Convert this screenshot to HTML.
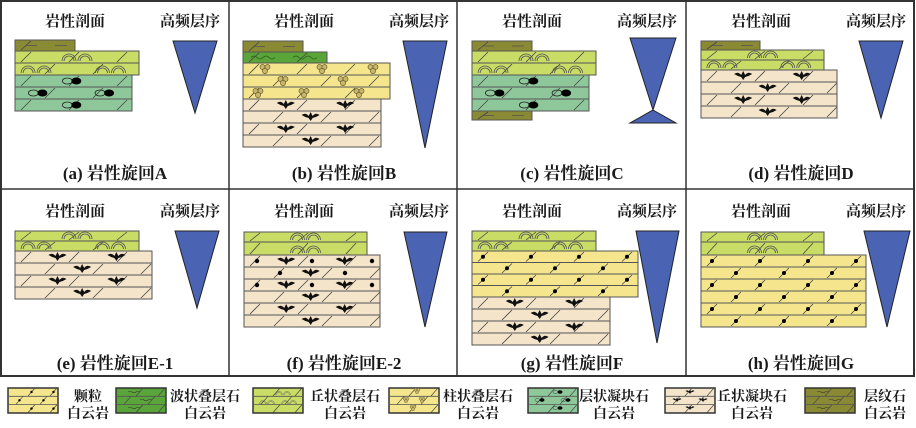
<!DOCTYPE html>
<html><head><meta charset="utf-8"><style>
html,body{margin:0;padding:0;background:#fff}
svg{display:block}
text{font-family:"Liberation Serif","Noto Serif CJK SC",serif;fill:#1a1a1a;font-weight:bold}
</style></head><body>
<svg id="s" width="916" height="428" viewBox="0 0 916 428" xmlns="http://www.w3.org/2000/svg">
<rect x="1" y="1" width="913" height="375" fill="#fff" stroke="#333" stroke-width="2"/>
<line x1="0" y1="189" x2="915" y2="189" stroke="#333" stroke-width="1.5"/>
<line x1="229" y1="0" x2="229" y2="376" stroke="#333" stroke-width="1.5"/>
<line x1="457" y1="0" x2="457" y2="376" stroke="#333" stroke-width="1.5"/>
<line x1="686" y1="0" x2="686" y2="376" stroke="#333" stroke-width="1.5"/>
<g id="g"></g>
</svg>
<script>
var g=document.getElementById('g'),out='';
var C={lam:'#8b8a34',wav:'#5aa53a',hum:'#c8dc66',col:'#f5e68e',gra:'#f5e68e',nod:'#8ec89a',tan:'#f4e4ca'};
function bat(x,y,k){k=k||1;return '<path transform="translate('+x+','+y+') scale('+k+')" d="M-9,-2 Q-5,-5 -2,-1 L0,-5 L2,-1 Q5,-5 9,-2 Q6,0 2,1 L0,4 L-2,1 Q-6,0 -9,-2Z" fill="#111"/>';}
function nod(x,y,k){k=k||1;return '<g transform="translate('+x+','+y+') scale('+k+')"><ellipse cx="-5" cy="0" rx="5" ry="3" fill="none" stroke="#222" stroke-width=".8"/><ellipse cx="4" cy="0" rx="5" ry="3.5" fill="#000"/></g>';}
function hum(x,y,k){k=k||1;var s='<g transform="translate('+x+','+y+') scale('+k+')">';[-8,8].forEach(function(d){[7,5].forEach(function(r){s+='<path d="M'+(d-r)+',0 A'+r+','+r+' 0 0 1 '+(d+r)+',0" fill="none" stroke="#555" stroke-width=".8"/>';});});return s+'</g>';}
function col(x,y,k){k=k||1;return '<g transform="translate('+x+','+y+') scale('+k+')" fill="#c8b66a" stroke="#6b6030" stroke-width=".7"><circle cx="-2.5" cy="-2" r="2.5"/><circle cx="2.5" cy="-2" r="2.5"/><circle cx="0" cy="2" r="2.6"/></g>';}
function row(x,y,w,h,t,i){
 var s='<rect x="'+x+'" y="'+y+'" width="'+w+'" height="'+h+'" fill="'+C[t]+'" stroke="#555" stroke-width="1"/>';
 var st=(i%2?30:6);
 for(var xx=x+st;xx<x+w-6;xx+=48){s+='<line x1="'+xx+'" y1="'+(y+h-1)+'" x2="'+(xx+10)+'" y2="'+(y+1)+'" stroke="#444" stroke-width=".8"/>';
  if(t=='gra')s+='<circle cx="'+(xx+5)+'" cy="'+(y+h/2)+'" r="2" fill="#000"/>';}
 var cy=y+h/2;
 if(t=='hum'){(i%2?[0.17,0.77]:[0.5]).forEach(function(f){s+=hum(x+f*w,y+h-2);});}
 if(t=='nod'){(i%2?[0.2,0.77]:[0.49]).forEach(function(f){s+=nod(x+f*w,cy);});}
 if(t=='tan'){(i%2?[0.49]:[0.31,0.74]).forEach(function(f){s+=bat(x+f*w,cy);});}
 if(t=='col'){var L=[[22,79,130],[40,100],[15,61,116]][i%3];L.forEach(function(r){s+=col(x+r,cy);});}
 if(t=='lam'){for(var k=x+10;k<x+w-10;k+=30)s+='<line x1="'+k+'" y1="'+cy+'" x2="'+(k+12)+'" y2="'+cy+'" stroke="#555" stroke-width=".8"/>';}
 if(t=='wav'){for(var k=x+8;k<x+w-20;k+=42)s+='<path d="M'+k+','+cy+' q3,-3 6,0 t6,0 t6,0 t6,0" fill="none" stroke="#2e5a1e" stroke-width=".8"/>';}
 return s;}
function stack(x,y,list){var s='';list.forEach(function(L){var t=L[0],w=L[1],h=L[2],n=L[3];for(var i=0;i<n;i++){s+=row(x,y,w,h,t,i);y+=h;}});return s;}
function tri(p){return '<polygon points="'+p+'" fill="#4a63b2" stroke="#222" stroke-width="1"/>';}
var P=[[0,0],[229,0],[457,0],[686,0],[0,190],[229,190],[457,190],[686,190]];
var cap=['(a) 岩性旋回A','(b) 岩性旋回B','(c) 岩性旋回C','(d) 岩性旋回D','(e) 岩性旋回E-1','(f) 岩性旋回E-2','(g) 岩性旋回F','(h) 岩性旋回G'];
P.forEach(function(p,k){out+='<text x="'+(p[0]+75)+'" y="'+(p[1]+26)+'" font-size="15" text-anchor="middle">岩性剖面</text>';
out+='<text x="'+(p[0]+190)+'" y="'+(p[1]+26)+'" font-size="15" text-anchor="middle">高频层序</text>';
out+='<text x="'+(p[0]+115)+'" y="'+(p[1]+179)+'" font-size="17" text-anchor="middle">'+cap[k]+'</text>';});
out+=stack(15,40,[['lam',60,11,1],['hum',124,12,2],['nod',117,12,3]]);
out+=tri('173,41 217,41 195,113');
out+=stack(243,41,[['lam',60,11,1],['wav',84,11,1],['col',147,12,3],['tan',138,12,4]]);
out+=tri('403,41 447,41 425,148');
out+=stack(472,41,[['lam',60,10,1],['hum',124,12,2],['nod',117,12,3]]);
out+=row(472,111,60,9,'lam',0);
out+=tri('630,38 676,38 653,110')+tri('653,110 676,123 630,123');
out+=stack(701,41,[['lam',59,9,1],['hum',123,10,2],['tan',136,12,4]]);
out+=tri('859,41 903,41 881,118');
out+=stack(15,231,[['hum',124,10,2],['tan',137,12,4]]);
out+=tri('175,231 219,231 197,308');
out+=stack(244,232,[['hum',123,10,1],['hum',123,13,1]]);
out+=stack(244,255,[['tan',136,12,6]]);
[[0,[13,68,128]],[1,[36,101]],[2,[13,68,128]]].forEach(function(a){a[1].forEach(function(r){out+='<circle cx="'+(244+r)+'" cy="'+(255+a[0]*12+6)+'" r="2.2" fill="#000"/>';});});
out+=tri('404,232 447,232 425,327');
out+=stack(472,231,[['hum',124,10,2],['gra',166,11.5,4],['tan',138,12,4]]);
out+=tri('636,231 679,231 657,343');
out+=stack(701,232,[['hum',123,10,1],['hum',123,13,1]]);
out+=stack(701,255,[['gra',165,12,6]]);
out+=tri('864,231 910,231 887,327');
// legend
var LG=[[8,'gra','颗粒',88],[116,'wav','波状叠层石',205],[253,'hum','丘状叠层石',345],[389,'col','柱状叠层石',478],[528,'nod','层状凝块石',614],[665,'tan','丘状凝块石',752],[805,'lam','层纹石',885]];
LG.forEach(function(l){var x=l[0],s='';
 s+='<rect x="'+x+'" y="388" width="50" height="25" fill="'+C[l[1]]+'" stroke="#333" stroke-width="1.5"/>';
 [396.3,404.6].forEach(function(yy){s+='<line x1="'+x+'" y1="'+yy+'" x2="'+(x+50)+'" y2="'+yy+'" stroke="#555" stroke-width=".8"/>';});
 for(var r=0;r<3;r++){var y0=388+r*8.3;[(r%2?8:20),(r%2?32:42)].forEach(function(d){s+='<line x1="'+(x+d)+'" y1="'+(y0+8)+'" x2="'+(x+d+7)+'" y2="'+y0+'" stroke="#444" stroke-width=".7"/>';if(l[1]=='gra')s+='<circle cx="'+(x+d+3.5)+'" cy="'+(y0+4)+'" r="1.2" fill="#000"/>';});}
 if(l[1]=='nod'){s+=nod(x+30,392,.5)+nod(x+12,400,.5)+nod(x+38,400,.5)+nod(x+30,408,.5);}
 if(l[1]=='tan'){s+=bat(x+25,392,.5)+bat(x+12,400,.5)+bat(x+38,400,.5)+bat(x+25,408,.5);}
 if(l[1]=='col'){s+=col(x+28,391,.6)+col(x+17,400,.6)+col(x+33,400,.6)+col(x+24,408,.6);}
 if(l[1]=='hum'){s+=hum(x+30,395,.5)+hum(x+14,404,.5)+hum(x+36,404,.5);}
 if(l[1]=='wav'||l[1]=='lam'){[392,400,408].forEach(function(yy,i){s+='<path d="M'+(x+12+(i%2)*12)+','+yy+' q2,-1.5 4,0 t4,0 t4,0" fill="none" stroke="#333" stroke-width=".6"/>';});}
 s+='<text x="'+l[3]+'" y="401" font-size="14" text-anchor="middle">'+l[2]+'</text><text x="'+l[3]+'" y="418" font-size="14" text-anchor="middle">白云岩</text>';
 out+=s;});
g.innerHTML=out;
</script>
</body></html>
